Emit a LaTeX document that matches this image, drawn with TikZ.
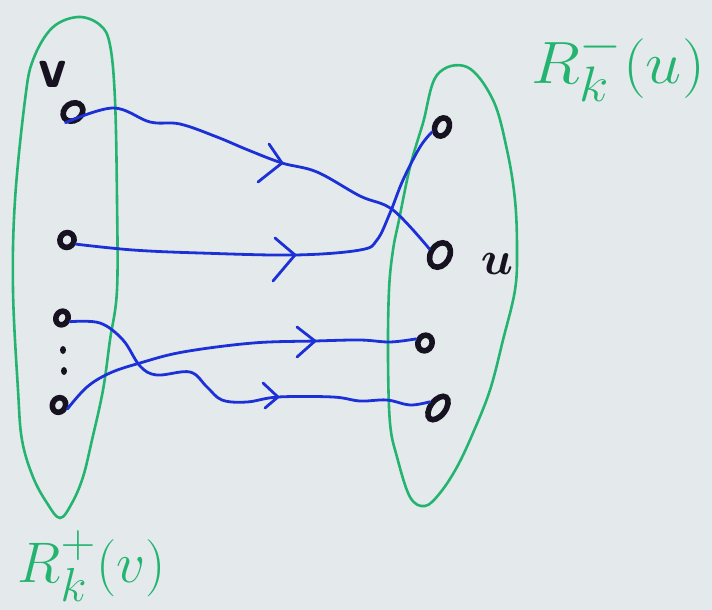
\documentclass[tikz,border=0pt]{standalone}
\usepackage{graphicx}
\usetikzlibrary{shapes.geometric,calc}
\definecolor{paper}{RGB}{228,234,236}
\definecolor{ink}{RGB}{22,18,32}
\definecolor{mgreen}{RGB}{36,180,112}
\definecolor{mblue}{RGB}{28,48,215}
\begin{document}
\begin{tikzpicture}[x=1pt,y=-1pt,
  blob/.style={draw=mgreen,line width=2.6pt},
  wire/.style={draw=mblue,line width=2.8pt,line cap=round,line join=round},
  vert/.style={draw=ink,ellipse,line width=5.6pt,inner sep=0pt,minimum width=10pt,minimum height=13pt,rotate=-25},
  dotmark/.style={fill=ink,ellipse,inner sep=0pt,minimum width=6pt,minimum height=8pt},
  lab/.style={text=mgreen,font=\Huge},
  inklab/.style={text=ink,font=\Huge}]
\fill[paper] (0,0) rectangle (712,610);
\useasboundingbox (0,0) rectangle (712,610);
% sets
\draw[blob] plot[smooth cycle,tension=0.6] coordinates {(78,17) (100,25) (110,45) (115,100) (117,200) (117,290) (110,340) (103,390) (92,440) (83,477) (72,503) (60,518) (47,503) (33,477) (22,440) (18,390) (13,290) (15,200) (25,100) (33,60) (52,28)};
\draw[blob] plot[smooth cycle,tension=0.6] coordinates {(437,75) (467,67) (493,100) (507,150) (515,200) (517,250) (515,290) (503,340) (490,390) (473,433) (457,467) (440,493) (425,506) (410,497) (397,457) (390,423) (388,357) (389,290) (393,250) (399,220) (410,167) (423,123)};
% vertices
\node[vert,minimum width=17pt,minimum height=21pt,rotate=-30] (v) at (73,112) {};
\node[vert,minimum width=14pt,minimum height=15pt] (a2) at (67,240) {};
\node[vert,minimum width=12pt,minimum height=14pt] (a3) at (62,318) {};
\node[vert,minimum width=13pt,minimum height=15pt] (a4) at (59,405) {};
\node[dotmark] (d1) at (63,350) {};
\node[dotmark] (d2) at (64,371) {};
\node[vert,minimum width=14pt,minimum height=19pt] (b1) at (442,127) {};
\node[vert,minimum width=19pt,minimum height=26pt,rotate=-5] (u) at (440,255) {};
\node[vert,minimum width=14pt,minimum height=16pt] (b3) at (425,343) {};
\node[vert,minimum width=15pt,minimum height=27pt,rotate=-12] (b4) at (438,408) {};
% labels
\node[inklab] (vl) at (53,74) {\scalebox{2.3}{\sffamily\bfseries v}};
\node[inklab] (ul) at (497,264) {\scalebox{1.9}{\boldmath$u$}};
\node[lab] (rminus) at (618,66) {\scalebox{2.6}[2.4]{$R^{-}_{k}(u)$}};
\node[lab] (rplus) at (92,566) {\scalebox{2.3}{$R^{\raisebox{2pt}{$\scriptstyle +$}}_{\raisebox{-2pt}{$\scriptstyle k$}}(v)$}};
% arrow tip positions
\coordinate (t1) at (282,163);
\coordinate (t2) at (295,255);
\coordinate (t3) at (278,397);
\coordinate (t4) at (315,341);
% edges
\draw[wire] plot[smooth,tension=0.6] coordinates {(v.-70) (113,108) (150,122) (180,124) (217,137) (248,150) (t1) (317,172) (360,196) (393,210) (u.west)};
\draw[wire] plot[smooth,tension=0.6] coordinates {(a2.east) (133,250) (200,253) (t2) (360,250) (377,240) (390,213) (403,180) (420,147) (b1.south west)};
\draw[wire] plot[smooth,tension=0.6] coordinates {(a3.east) (100,323) (123,340) (140,366) (157,375) (190,372) (207,387) (222,400) (247,402) (t3) (333,397) (360,401) (387,400) (410,405) (b4.west)};
\draw[wire] plot[smooth,tension=0.6] coordinates {(a4.east) (87,387) (110,373) (140,363) (183,352) (253,343) (t4) (360,340) (390,342) (b3.west)};
% chevrons
\draw[wire] ($(t1)+(-13,-19)$) -- (t1) -- ($(t1)+(-24,19)$);
\draw[wire] ($(t2)+(-20,-17)$) -- (t2) -- ($(t2)+(-22,26)$);
\draw[wire] ($(t3)+(-15,-14)$) -- (t3) -- ($(t3)+(-13,11)$);
\draw[wire] ($(t4)+(-18,-14)$) -- (t4) -- ($(t4)+(-18,16)$);
\end{tikzpicture}
\end{document}
